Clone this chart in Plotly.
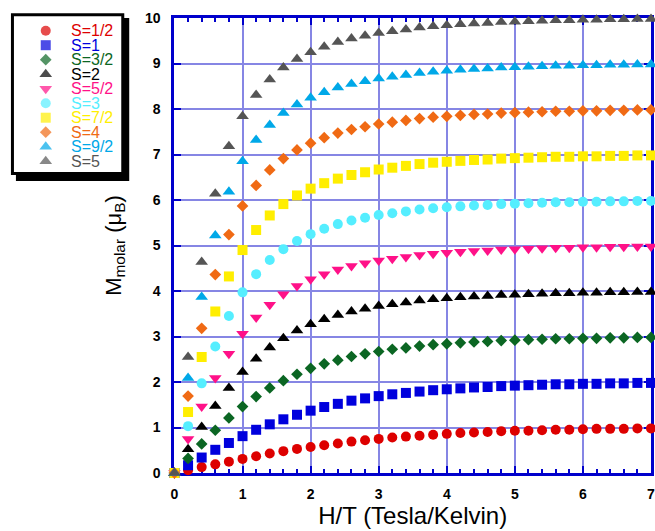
import plotly.graph_objects as go

# ---------------- data ----------------
h_over_t = [0.0, 0.2, 0.4, 0.6, 0.8, 1.0, 1.2, 1.4, 1.6, 1.8, 2.0, 2.2, 2.4, 2.6, 2.8, 3.0,
            3.2, 3.4, 3.6, 3.8, 4.0, 4.2, 4.4, 4.6, 4.8, 5.0, 5.2, 5.4, 5.6, 5.8, 6.0,
            6.2, 6.4, 6.6, 6.8, 7.0]

series_names = ["S=1/2", "S=1", "S=3/2", "S=2", "S=5/2", "S=3", "S=7/2", "S=4", "S=9/2", "S=5"]

m_s1_2 = [0, 0.06, 0.13, 0.19, 0.25, 0.31, 0.37, 0.43, 0.48, 0.53, 0.57, 0.61, 0.65, 0.69, 0.72, 0.75,
          0.78, 0.80, 0.82, 0.84, 0.86, 0.88, 0.89, 0.90, 0.92, 0.93, 0.93, 0.94, 0.95, 0.95, 0.96,
          0.97, 0.97, 0.97, 0.98, 0.98]
m_s1 = [0, 0.17, 0.34, 0.51, 0.66, 0.81, 0.95, 1.07, 1.18, 1.28, 1.37, 1.45, 1.52, 1.59, 1.64, 1.69,
        1.73, 1.76, 1.79, 1.82, 1.84, 1.86, 1.88, 1.89, 1.91, 1.92, 1.93, 1.94, 1.95, 1.95, 1.96,
        1.96, 1.97, 1.97, 1.98, 1.98]
m_s3_2 = [0, 0.32, 0.64, 0.94, 1.21, 1.46, 1.68, 1.87, 2.03, 2.17, 2.30, 2.40, 2.48, 2.56, 2.62, 2.67,
          2.72, 2.75, 2.79, 2.82, 2.84, 2.86, 2.88, 2.89, 2.91, 2.92, 2.93, 2.94, 2.95, 2.95, 2.96,
          2.96, 2.97, 2.97, 2.98, 2.98]
m_s2 = [0, 0.52, 1.01, 1.47, 1.87, 2.22, 2.51, 2.76, 2.96, 3.13, 3.27, 3.38, 3.47, 3.55, 3.61, 3.67,
        3.71, 3.75, 3.79, 3.82, 3.84, 3.86, 3.88, 3.89, 3.91, 3.92, 3.93, 3.94, 3.95, 3.95, 3.96,
        3.96, 3.97, 3.97, 3.98, 3.98]
m_s5_2 = [0, 0.75, 1.46, 2.09, 2.62, 3.06, 3.42, 3.70, 3.93, 4.11, 4.26, 4.37, 4.47, 4.55, 4.61, 4.67,
          4.71, 4.75, 4.79, 4.82, 4.84, 4.86, 4.88, 4.89, 4.91, 4.92, 4.93, 4.94, 4.95, 4.95, 4.96,
          4.96, 4.97, 4.97, 4.98, 4.98]
m_s3 = [0, 1.03, 1.97, 2.78, 3.45, 3.97, 4.37, 4.68, 4.92, 5.10, 5.25, 5.37, 5.47, 5.55, 5.61, 5.67,
        5.71, 5.75, 5.79, 5.82, 5.84, 5.86, 5.88, 5.89, 5.91, 5.92, 5.93, 5.94, 5.95, 5.95, 5.96,
        5.96, 5.97, 5.97, 5.98, 5.98]
m_s7_2 = [0, 1.34, 2.55, 3.55, 4.32, 4.90, 5.34, 5.66, 5.91, 6.10, 6.25, 6.37, 6.47, 6.55, 6.61, 6.67,
          6.71, 6.75, 6.79, 6.82, 6.84, 6.86, 6.88, 6.89, 6.91, 6.92, 6.93, 6.94, 6.95, 6.95, 6.96,
          6.96, 6.97, 6.97, 6.98, 6.98]
m_s4 = [0, 1.69, 3.18, 4.36, 5.24, 5.87, 6.32, 6.66, 6.91, 7.10, 7.25, 7.37, 7.47, 7.55, 7.61, 7.67,
        7.71, 7.75, 7.79, 7.82, 7.84, 7.86, 7.88, 7.89, 7.91, 7.92, 7.93, 7.94, 7.95, 7.95, 7.96,
        7.96, 7.97, 7.97, 7.98, 7.98]
m_s9_2 = [0, 2.09, 3.87, 5.22, 6.18, 6.85, 7.32, 7.65, 7.91, 8.10, 8.25, 8.37, 8.47, 8.55, 8.61, 8.67,
          8.71, 8.75, 8.79, 8.82, 8.84, 8.86, 8.88, 8.89, 8.91, 8.92, 8.93, 8.94, 8.95, 8.95, 8.96,
          8.96, 8.97, 8.97, 8.98, 8.98]
m_s5 = [0, 2.55, 4.64, 6.14, 7.18, 7.84, 8.31, 8.65, 8.91, 9.10, 9.25, 9.37, 9.47, 9.55, 9.61, 9.67,
        9.71, 9.75, 9.79, 9.82, 9.84, 9.86, 9.88, 9.89, 9.91, 9.92, 9.93, 9.94, 9.95, 9.95, 9.96,
        9.96, 9.97, 9.97, 9.98, 9.98]

x_ticks = [0, 1, 2, 3, 4, 5, 6, 7]
y_ticks = [0, 1, 2, 3, 4, 5, 6, 7, 8, 9, 10]

all_series = [m_s1_2, m_s1, m_s3_2, m_s2, m_s5_2, m_s3, m_s7_2, m_s4, m_s9_2, m_s5]

# ---------------- styles ----------------
colors = ["#DD0000", "#0000DD", "#0B6623", "#000000", "#FF1188",
          "#55EEFF", "#FFEE00", "#F06A14", "#00A8E8", "#555555"]
symbols = ["circle", "square", "diamond", "triangle-up", "triangle-down",
           "circle", "square", "diamond", "triangle-up", "triangle-up"]
sizes = [10, 10, 9, 11, 11, 10, 10, 9, 11, 11]

AXIS_BLUE = "#0000CC"
GRID_BLUE = "#8686E4"
FONT = "Liberation Sans, Arial, sans-serif"

W, H = 655, 531
ML, MR, MT, MB = 0, 4, 18, 58
PW = W - ML - MR
PH = H - MT - MB
PLOT_LEFT = 171.5

fig = go.Figure()

for name, ys, c, s, sz in zip(series_names, all_series, colors, symbols, sizes):
    fig.add_trace(go.Scatter(
        x=h_over_t, y=ys, mode="markers", name=name, showlegend=False,
        marker=dict(color=c, symbol=s, size=sz, line=dict(width=0)),
        cliponaxis=False, xaxis="x", yaxis="y",
    ))

# ---------------- custom legend (markers on an auxiliary axis) ----------------
idx = list(range(len(series_names)))
fig.add_trace(go.Scatter(
    x=[0] * len(series_names), y=idx, mode="markers", showlegend=False,
    marker=dict(color=colors, symbol=symbols, size=sizes, line=dict(width=0)),
    cliponaxis=False, xaxis="x2", yaxis="y2", hoverinfo="skip",
))
annotations = []
for i, (name, c) in enumerate(zip(series_names, colors)):
    annotations.append(dict(
        x=1, y=i, xref="x2", yref="y2", text=name, showarrow=False,
        xanchor="left", yanchor="middle", borderpad=0,
        font=dict(family=FONT, size=16, color=c),
    ))

def px_x(p):
    return (p - ML) / PW

def px_y(p):
    return (H - MB - p) / PH

shapes = [
    dict(type="rect", xref="paper", yref="paper",
         x0=px_x(12), x1=px_x(126), y0=px_y(181), y1=px_y(18),
         fillcolor="black", line=dict(width=0), layer="below"),
    dict(type="rect", xref="paper", yref="paper",
         x0=px_x(8.5), x1=px_x(119.5), y0=px_y(173.5), y1=px_y(14.8),
         fillcolor="white", line=dict(color="black", width=3), layer="below"),
]

leg_dom_w = 130.0
entry_step = 14.5
first_entry = 30.7
marker_px = 42.0
text_px = 66.0
col = text_px - marker_px
x2_range = [-marker_px / col, (leg_dom_w - marker_px) / col]
y_top = (MT - first_entry) / entry_step
y_bot = y_top + PH / entry_step

fig.update_layout(
    width=W, height=H,
    margin=dict(l=ML, r=MR, t=MT, b=MB, pad=0),
    paper_bgcolor="white", plot_bgcolor="rgba(0,0,0,0)",
    font=dict(family=FONT, color="black"),
    showlegend=False,
    shapes=shapes,
    annotations=annotations,
    xaxis=dict(
        domain=[(PLOT_LEFT - ML) / PW, 1.0], range=[0, 7], tickvals=x_ticks,
        showgrid=True, gridcolor=GRID_BLUE, gridwidth=2,
        showline=True, linecolor=AXIS_BLUE, linewidth=3, mirror="allticks",
        ticks="inside", ticklen=7, tickwidth=2, tickcolor=AXIS_BLUE,
        minor=dict(dtick=0.2, ticks="inside", ticklen=4, tickwidth=2,
                   tickcolor=AXIS_BLUE, showgrid=False),
        tickfont=dict(family=FONT, size=14, color="black", weight="bold"),
        ticklabelstandoff=6, ticklabeloverflow="allow",
        zeroline=False, layer="below traces",
        title=dict(text="H/T (Tesla/Kelvin)", font=dict(family=FONT, size=24, color="black"),
                   standoff=5),
    ),
    yaxis=dict(
        range=[0, 10], tickvals=y_ticks,
        showgrid=True, gridcolor=GRID_BLUE, gridwidth=2,
        showline=True, linecolor=AXIS_BLUE, linewidth=3, mirror="allticks",
        ticks="inside", ticklen=7, tickwidth=2, tickcolor=AXIS_BLUE,
        tickfont=dict(family=FONT, size=14, color="black", weight="bold"),
        ticklabelstandoff=8, ticklabeloverflow="allow",
        zeroline=False, layer="below traces",
        title=dict(text="M<sub>molar</sub> (μ<sub>B</sub>)",
                   font=dict(family=FONT, size=22, color="black"), standoff=18),
    ),
    xaxis2=dict(domain=[0, leg_dom_w / PW], range=x2_range, visible=False,
                fixedrange=True),
    yaxis2=dict(domain=[0, 1], range=[y_bot, y_top], visible=False, fixedrange=True,
                anchor="x2"),
)

fig.write_html("out.html", config={"displayModeBar": False},
               post_script="document.body.style.margin='0px';")
